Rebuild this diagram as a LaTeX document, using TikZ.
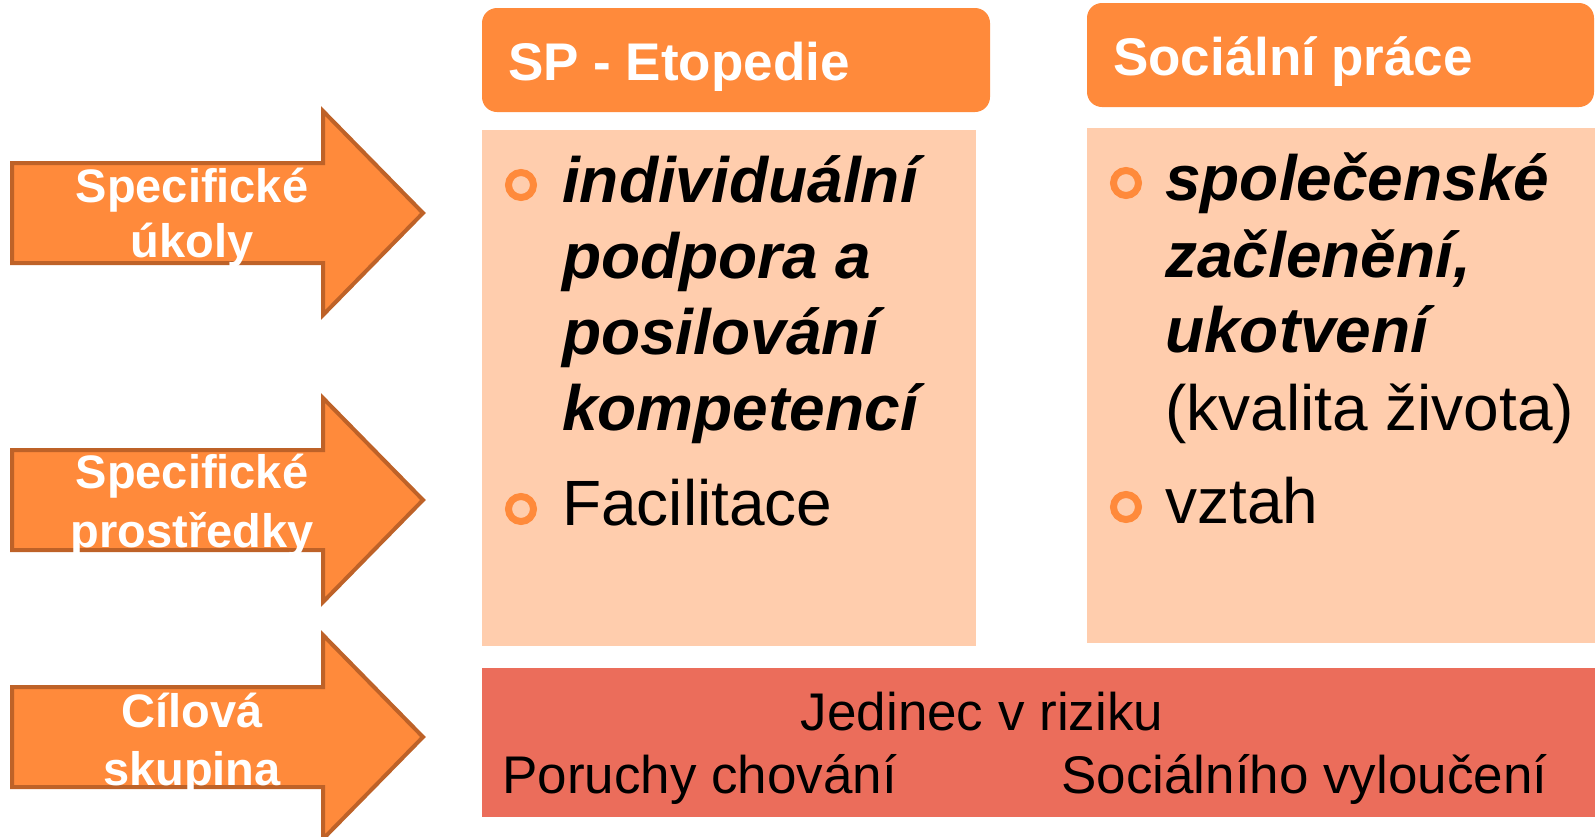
\documentclass[tikz,border=0pt]{standalone}
\usepackage{fontspec}
\setmainfont{Liberation Sans}
\definecolor{orangeA}{HTML}{FF8A3B}
\definecolor{orangeEdge}{HTML}{BE6228}
\definecolor{peach}{HTML}{FFCDAD}
\definecolor{redbar}{HTML}{EB6D5B}
\begin{document}
\begin{tikzpicture}[x=1pt,y=-1pt,
  arrowshape/.style={fill=orangeA,draw=orangeEdge,line width=4pt,line join=miter},
  header/.style={fill=orangeA,rounded corners=15pt},
  panel/.style={fill=peach},
  bar/.style={fill=redbar},
  bi/.style={anchor=base west,inner sep=0pt,font=\fontsize{64}{76}\selectfont\bfseries\itshape},
  rg/.style={anchor=base west,inner sep=0pt,font=\fontsize{64}{76}\selectfont},
  hd/.style={anchor=base west,inner sep=0pt,text=white,font=\fontsize{53}{64}\selectfont\bfseries},
  ar/.style={anchor=base,inner sep=0pt,text=white,font=\fontsize{47}{56}\selectfont\bfseries},
  bt/.style={inner sep=0pt,font=\fontsize{53}{64}\selectfont},
  bul/.style={circle,draw=orangeA,line width=7pt,minimum size=25pt,inner sep=0pt}]
\useasboundingbox (0,0) rectangle (1595,836);

% arrows
\foreach \c in {213,500,737}
  \draw[arrowshape] (12,\c-50) -- (323,\c-50) -- (323,\c-102) -- (423,\c)
     -- (323,\c+102) -- (323,\c+50) -- (12,\c+50) -- cycle;
\node[ar] (a1a) at (192,202) {Specifické};
\node[ar] (a1b) at (192,257) {úkoly};
\node[ar] (a2a) at (192,488) {Specifické};
\node[ar] (a2b) at (192,547) {prostředky};
\node[ar] (a3a) at (192,727) {Cílová};
\node[ar] (a3b) at (192,785) {skupina};

% headers
\fill[header] (482,8) rectangle (990,112);
\node[hd] (h1) at (508,80) {SP - Etopedie};
\fill[header] (1087,3) rectangle (1594,107);
\node[hd] (h2) at (1113,75) {Sociální práce};

% panels
\fill[panel] (482,130) rectangle (976,646);
\fill[panel] (1087,128) rectangle (1595,643);

% left panel text
\node[bul] (b1) at (521,185) {};
\node[bi] (l1) at (562,202) {individuální};
\node[bi] (l2) at (562,278) {podpora a};
\node[bi] (l3) at (562,354) {posilování};
\node[bi] (l4) at (562,430) {kompetencí};
\node[bul] (b2) at (521,509) {};
\node[rg] (l5) at (562,525) {Facilitace};

% right panel text
\node[bul] (b3) at (1126,183) {};
\node[bi] (r1) at (1165,200) {společenské};
\node[bi] (r2) at (1165,277) {začlenění,};
\node[bi] (r3) at (1165,352) {ukotvení};
\node[rg] (r4) at (1165,430) {(kvalita života)};
\node[bul] (b4) at (1126,507) {};
\node[rg] (r5) at (1165,523) {vztah};

% bottom bar
\fill[bar] (482,668) rectangle (1595,817);
\node[bt,anchor=base] (t1) at (982,730) {Jedinec v riziku};
\node[bt,anchor=base west] (t2) at (502,793) {Poruchy chování};
\node[bt,anchor=base west] (t3) at (1061,793) {Sociálního vyloučení};
\end{tikzpicture}
\end{document}
